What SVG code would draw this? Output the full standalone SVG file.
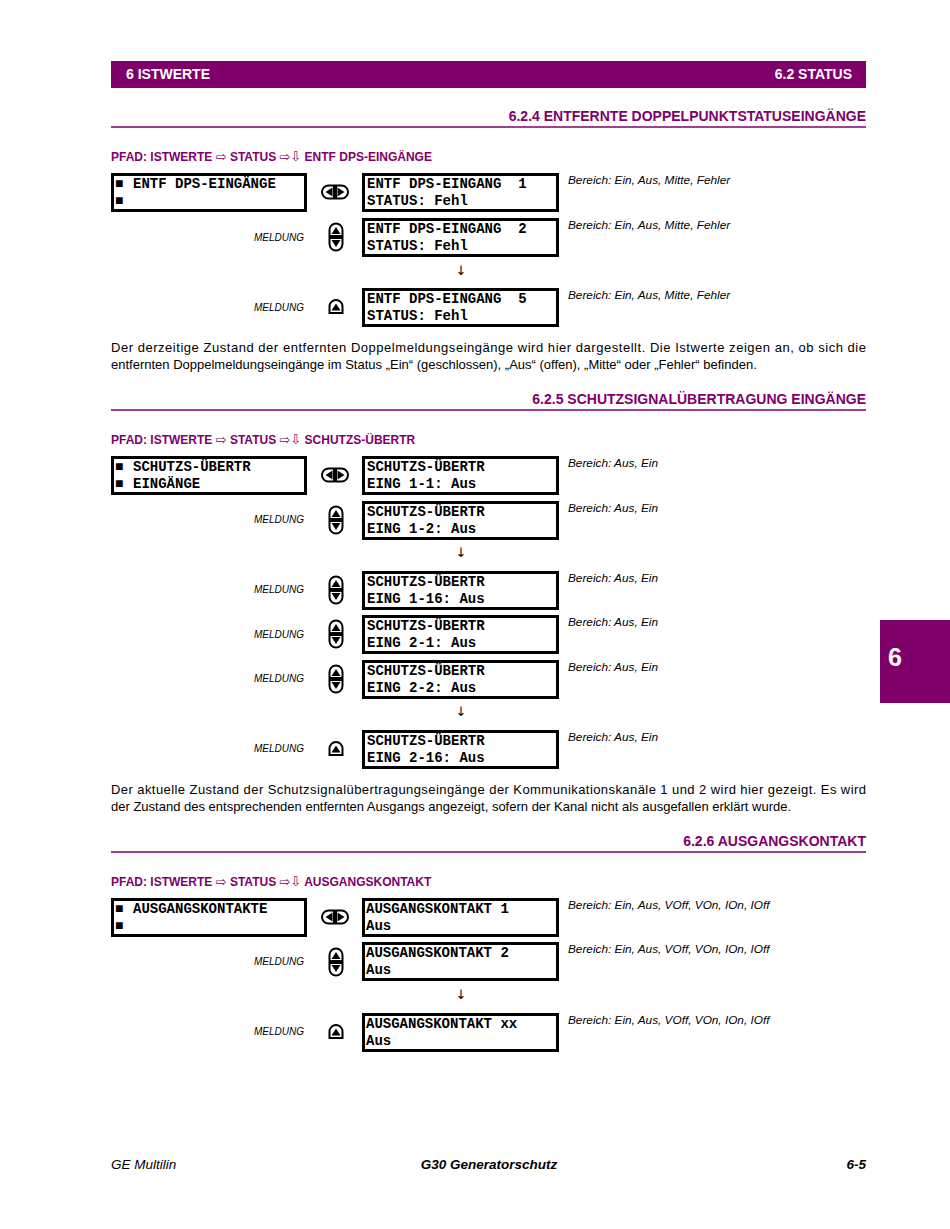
<svg xmlns="http://www.w3.org/2000/svg" xmlns:xlink="http://www.w3.org/1999/xlink" width="950" height="1229" viewBox="0 0 950 1229">
<style>
.pur{fill:#80006a}
.hdr{font-family:"Liberation Sans",Arial,sans-serif;font-weight:bold;font-size:14px;fill:#fff}
.sec{font-family:"Liberation Sans",Arial,sans-serif;font-weight:bold;font-size:14px;fill:#80006a;text-anchor:end}
.path{font-family:"Liberation Sans",Arial,sans-serif;font-weight:bold;font-size:12px;fill:#80006a}
.arr{font-family:"DejaVu Sans",sans-serif;font-weight:normal;font-size:13px}
.rule{stroke:#80006a;stroke-width:1.5}
.box{fill:#fff;stroke:#000;stroke-width:3}
.mono{font-family:"Liberation Mono","Courier New",monospace;font-weight:bold;font-size:14px;fill:#000;white-space:pre}
.rng{font-family:"Liberation Sans",Arial,sans-serif;font-style:italic;font-size:11.8px;fill:#000}
.msg{font-family:"Liberation Sans",Arial,sans-serif;font-style:italic;font-size:10px;fill:#000;text-anchor:end}
.dn{font-family:"DejaVu Sans",sans-serif;font-size:13px;fill:#000;text-anchor:middle}
.body{font-family:"Liberation Sans",Arial,sans-serif;font-size:13px;fill:#000}
.btn{fill:#fff;stroke:#000;stroke-width:2}
.foot{font-family:"Liberation Sans",Arial,sans-serif;font-style:italic;font-size:13.5px;fill:#000}
</style>
<defs>
<g id="lr">
<path class="btn" d="M-1,-6.5 H-6.5 A6.5,6.5 0 0 0 -6.5,6.5 H-1 Z"/>
<path d="M-2.5,-4.5 L-9.5,0 L-2.5,4.5 Z"/>
<path class="btn" d="M1,-6.5 H6.5 A6.5,6.5 0 0 1 6.5,6.5 H1 Z"/>
<path d="M2.5,-4.5 L9.5,0 L2.5,4.5 Z"/>
</g>
<g id="ud">
<path class="btn" d="M-6.5,-1 V-7 A6.5,6.5 0 0 1 6.5,-7 V-1 Z"/>
<path d="M-4.5,-3 L0,-10 L4.5,-3 Z"/>
<path class="btn" d="M-6.5,1 V7 A6.5,6.5 0 0 0 6.5,7 V1 Z"/>
<path d="M-4.5,3 L0,10 L4.5,3 Z"/>
</g>
<g id="up">
<path class="btn" d="M-6.5,6 V-0.5 A6.5,6.5 0 0 1 6.5,-0.5 V6 Z"/>
<path d="M-4.5,3.5 L0,-3.5 L4.5,3.5 Z"/>
</g>
</defs>
<rect width="950" height="1229" fill="#fff"/>

<g id="header">
<rect x="111" y="61" width="755" height="27" class="pur"/>
<text x="126" y="79" class="hdr">6 ISTWERTE</text>
<text x="852" y="79" class="hdr" text-anchor="end">6.2 STATUS</text>
</g>

<g id="sidetab">
<rect x="880" y="620" width="70" height="83" class="pur"/>
<text x="888" y="666" font-family="Liberation Sans, Arial, sans-serif" font-weight="bold" font-size="25" fill="#fff">6</text>
</g>

<!-- Section 6.2.4 -->
<g id="sec624">
<text x="866" y="121" class="sec">6.2.4 ENTFERNTE DOPPELPUNKTSTATUSEINGÄNGE</text>
<line x1="111" y1="127" x2="866" y2="127" class="rule"/>
<text x="111" y="161" class="path">PFAD: ISTWERTE <tspan class="arr">⇨</tspan> STATUS <tspan class="arr">⇨⇩</tspan> ENTF DPS-EINGÄNGE</text>
</g>
<g id="n624_menu">
<rect x="112.5" y="174.5" width="193" height="36" class="box"/>
<text x="115" y="188" class="mono">■</text><text x="133" y="188" class="mono">ENTF DPS-EINGÄNGE</text>
<text x="115" y="205" class="mono">■</text>
</g>
<g id="n624_1">
<rect x="363.5" y="174.5" width="194" height="36" class="box"/>
<text x="367" y="188" class="mono" xml:space="preserve">ENTF DPS-EINGANG  1</text>
<text x="367" y="205" class="mono">STATUS: Fehl</text>
<text x="568" y="184" class="rng">Bereich: Ein, Aus, Mitte, Fehler</text>
</g>
<g id="n624_2">
<rect x="363.5" y="219.5" width="194" height="36" class="box"/>
<text x="367" y="233" class="mono" xml:space="preserve">ENTF DPS-EINGANG  2</text>
<text x="367" y="250" class="mono">STATUS: Fehl</text>
<text x="568" y="229" class="rng">Bereich: Ein, Aus, Mitte, Fehler</text>
<text x="304" y="241" class="msg">MELDUNG</text>
</g>
<g id="n624_5">
<rect x="363.5" y="289.5" width="194" height="36" class="box"/>
<text x="367" y="303" class="mono" xml:space="preserve">ENTF DPS-EINGANG  5</text>
<text x="367" y="320" class="mono">STATUS: Fehl</text>
<text x="568" y="299" class="rng">Bereich: Ein, Aus, Mitte, Fehler</text>
<text x="304" y="311" class="msg">MELDUNG</text>
</g>
<g id="c624">
<use xlink:href="#lr" x="335" y="192"/>
<use xlink:href="#ud" x="336" y="237"/>
<use xlink:href="#up" x="336" y="307"/>
<text x="461" y="275" class="dn">↓</text>
</g>
<g id="p624">
<text x="111" y="352" class="body" textLength="755" lengthAdjust="spacing">Der derzeitige Zustand der entfernten Doppelmeldungseingänge wird hier dargestellt. Die Istwerte zeigen an, ob sich die</text>
<text x="111" y="369" class="body">entfernten Doppelmeldungseingänge im Status „Ein“ (geschlossen), „Aus“ (offen), „Mitte“ oder „Fehler“ befinden.</text>
</g>

<!-- Section 6.2.5 -->
<g id="sec625">
<text x="866" y="404" class="sec">6.2.5 SCHUTZSIGNALÜBERTRAGUNG EINGÄNGE</text>
<line x1="111" y1="410" x2="866" y2="410" class="rule"/>
<text x="111" y="444" class="path">PFAD: ISTWERTE <tspan class="arr">⇨</tspan> STATUS <tspan class="arr">⇨⇩</tspan> SCHUTZS-ÜBERTR</text>
</g>
<g id="n625_menu">
<rect x="112.5" y="457.5" width="193" height="36" class="box"/>
<text x="115" y="471" class="mono">■</text><text x="133" y="471" class="mono">SCHUTZS-ÜBERTR</text>
<text x="115" y="488" class="mono">■</text><text x="133" y="488" class="mono">EINGÄNGE</text>
</g>
<g id="n625_11">
<rect x="363.5" y="457.5" width="194" height="36" class="box"/>
<text x="367" y="471" class="mono">SCHUTZS-ÜBERTR</text>
<text x="367" y="488" class="mono">EING 1-1: Aus</text>
<text x="568" y="467" class="rng">Bereich: Aus, Ein</text>
</g>
<g id="n625_12">
<rect x="363.5" y="502.5" width="194" height="36" class="box"/>
<text x="367" y="516" class="mono">SCHUTZS-ÜBERTR</text>
<text x="367" y="533" class="mono">EING 1-2: Aus</text>
<text x="568" y="512" class="rng">Bereich: Aus, Ein</text>
<text x="304" y="523" class="msg">MELDUNG</text>
</g>
<g id="n625_116">
<rect x="363.5" y="572.5" width="194" height="36" class="box"/>
<text x="367" y="586" class="mono">SCHUTZS-ÜBERTR</text>
<text x="367" y="603" class="mono">EING 1-16: Aus</text>
<text x="568" y="582" class="rng">Bereich: Aus, Ein</text>
<text x="304" y="593" class="msg">MELDUNG</text>
</g>
<g id="n625_21">
<rect x="363.5" y="616.5" width="194" height="36" class="box"/>
<text x="367" y="630" class="mono">SCHUTZS-ÜBERTR</text>
<text x="367" y="647" class="mono">EING 2-1: Aus</text>
<text x="568" y="626" class="rng">Bereich: Aus, Ein</text>
<text x="304" y="638" class="msg">MELDUNG</text>
</g>
<g id="n625_22">
<rect x="363.5" y="661.5" width="194" height="36" class="box"/>
<text x="367" y="675" class="mono">SCHUTZS-ÜBERTR</text>
<text x="367" y="692" class="mono">EING 2-2: Aus</text>
<text x="568" y="671" class="rng">Bereich: Aus, Ein</text>
<text x="304" y="682" class="msg">MELDUNG</text>
</g>
<g id="n625_216">
<rect x="363.5" y="731.5" width="194" height="36" class="box"/>
<text x="367" y="745" class="mono">SCHUTZS-ÜBERTR</text>
<text x="367" y="762" class="mono">EING 2-16: Aus</text>
<text x="568" y="741" class="rng">Bereich: Aus, Ein</text>
<text x="304" y="752" class="msg">MELDUNG</text>
</g>
<g id="c625">
<use xlink:href="#lr" x="335" y="475"/>
<use xlink:href="#ud" x="336" y="520"/>
<use xlink:href="#ud" x="336" y="590"/>
<use xlink:href="#ud" x="336" y="634"/>
<use xlink:href="#ud" x="336" y="679"/>
<use xlink:href="#up" x="336" y="749"/>
<text x="461" y="557" class="dn">↓</text>
<text x="461" y="716" class="dn">↓</text>
</g>
<g id="p625">
<text x="111" y="794" class="body" textLength="755" lengthAdjust="spacing">Der aktuelle Zustand der Schutzsignalübertragungseingänge der Kommunikationskanäle 1 und 2 wird hier gezeigt. Es wird</text>
<text x="111" y="811" class="body">der Zustand des entsprechenden entfernten Ausgangs angezeigt, sofern der Kanal nicht als ausgefallen erklärt wurde.</text>
</g>

<!-- Section 6.2.6 -->
<g id="sec626">
<text x="866" y="846" class="sec">6.2.6 AUSGANGSKONTAKT</text>
<line x1="111" y1="852" x2="866" y2="852" class="rule"/>
<text x="111" y="886" class="path">PFAD: ISTWERTE <tspan class="arr">⇨</tspan> STATUS <tspan class="arr">⇨⇩</tspan> AUSGANGSKONTAKT</text>
</g>
<g id="n626_menu">
<rect x="112.5" y="899.5" width="193" height="36" class="box"/>
<text x="115" y="913" class="mono">■</text><text x="133" y="913" class="mono">AUSGANGSKONTAKTE</text>
<text x="115" y="930" class="mono">■</text>
</g>
<g id="n626_1">
<rect x="363.5" y="899.5" width="194" height="36" class="box"/>
<text x="366" y="913" class="mono">AUSGANGSKONTAKT 1</text>
<text x="366" y="930" class="mono">Aus</text>
<text x="568" y="909" class="rng">Bereich: Ein, Aus, VOff, VOn, IOn, IOff</text>
</g>
<g id="n626_2">
<rect x="363.5" y="943.5" width="194" height="36" class="box"/>
<text x="366" y="957" class="mono">AUSGANGSKONTAKT 2</text>
<text x="366" y="974" class="mono">Aus</text>
<text x="568" y="953" class="rng">Bereich: Ein, Aus, VOff, VOn, IOn, IOff</text>
<text x="304" y="965" class="msg">MELDUNG</text>
</g>
<g id="n626_xx">
<rect x="363.5" y="1014.5" width="194" height="36" class="box"/>
<text x="366" y="1028" class="mono">AUSGANGSKONTAKT xx</text>
<text x="366" y="1045" class="mono">Aus</text>
<text x="568" y="1024" class="rng">Bereich: Ein, Aus, VOff, VOn, IOn, IOff</text>
<text x="304" y="1035" class="msg">MELDUNG</text>
</g>
<g id="c626">
<use xlink:href="#lr" x="335" y="917"/>
<use xlink:href="#ud" x="336" y="962"/>
<use xlink:href="#up" x="336" y="1032"/>
<text x="461" y="999" class="dn">↓</text>
</g>

<g id="footer">
<text x="111" y="1169" class="foot">GE Multilin</text>
<text x="489" y="1169" class="foot" font-weight="bold" text-anchor="middle">G30 Generatorschutz</text>
<text x="866" y="1169" class="foot" font-weight="bold" text-anchor="end">6-5</text>
</g>
</svg>
